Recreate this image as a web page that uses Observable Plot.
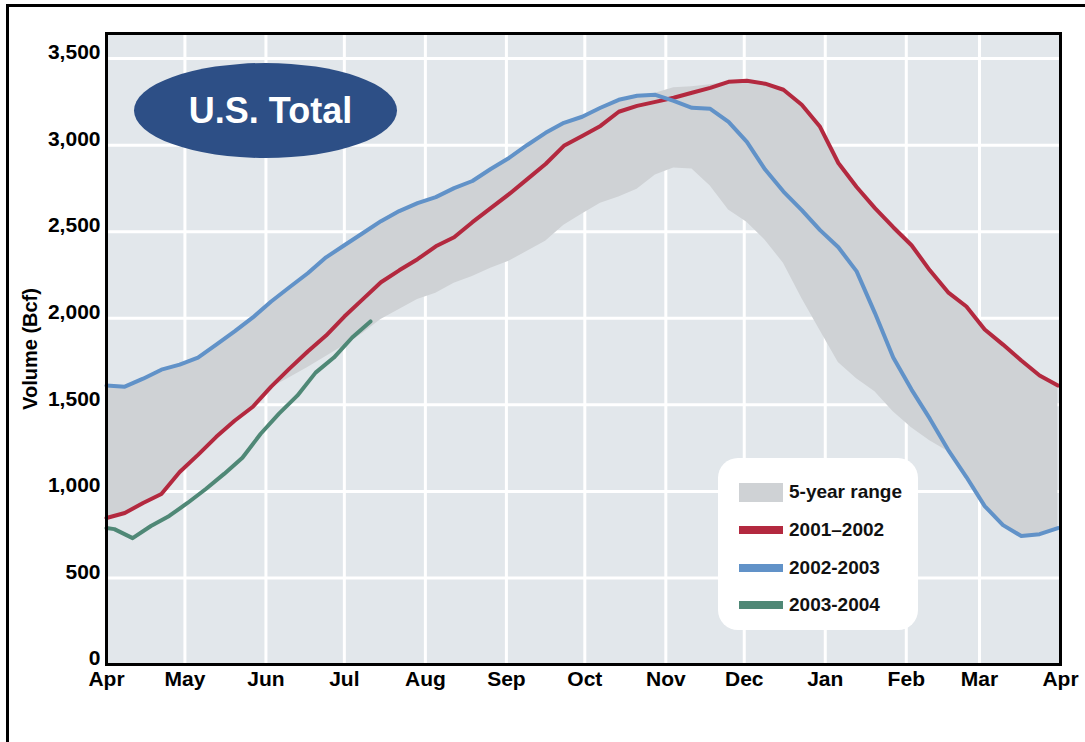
<!DOCTYPE html>
<html><head><meta charset="utf-8">
<script src="https://cdn.jsdelivr.net/npm/d3@7"></script>
<script src="https://cdn.jsdelivr.net/npm/@observablehq/plot@0.6"></script>
<style>
html,body{margin:0;padding:0;background:#fff;overflow:hidden;}
#wrap{position:relative;width:1085px;height:742px;font-family:"Liberation Sans",Arial,sans-serif;overflow:hidden;}
#outer{position:absolute;left:6px;top:4px;width:1200px;height:900px;border:3px solid #000;box-sizing:border-box;}
#chart{position:absolute;left:0;top:0;}
#badge{position:absolute;left:134px;top:63px;width:263px;height:95px;border-radius:50%;background:#2d4f86;color:#fff;font-weight:bold;font-size:36px;display:flex;align-items:center;justify-content:center;padding-left:10px;box-sizing:border-box;}
#legend{position:absolute;left:718px;top:458px;width:200px;height:172px;background:#fff;border-radius:20px;}
.item{position:absolute;left:21px;height:20px;display:flex;align-items:center;font-weight:bold;font-size:19px;color:#111;white-space:nowrap;}
.sw{width:44px;margin-right:6px;}
</style></head>
<body>
<div id="wrap">
  <div id="outer"></div>
  <div id="chart"></div>
  <div id="badge">U.S. Total</div>
  <div id="legend"></div>
</div>
<script>
// ---- data (Bcf), weekly from Apr 1 ----
const monthLabels = ["Apr","May","Jun","Jul","Aug","Sep","Oct","Nov","Dec","Jan","Feb","Mar","Apr"];
const yTickValues = [0, 500, 1000, 1500, 2000, 2500, 3000, 3500];
const seriesNames = ["5-year range", "2001\u20132002", "2002-2003", "2003-2004"];
const seriesColors = ["#cfd2d5", "#b3293f", "#6192c8", "#4f8876"];

const rangeLow = [846, 875, 933, 985, 1112, 1211, 1315, 1408, 1489, 1599,
  1657, 1715, 1779, 1842, 1912, 1993, 2051, 2109, 2144, 2202,
  2242, 2289, 2329, 2387, 2445, 2538, 2602, 2665, 2700, 2746,
  2827, 2868, 2862, 2764, 2625, 2555, 2451, 2318, 2115, 1929,
  1744, 1651, 1576, 1460, 1367, 1292, 1230, 1083, 915, 805,
  742, 753, 788];
const rangeHigh = [1611, 1605, 1651, 1703, 1732, 1773, 1848, 1924, 2005, 2097,
  2179, 2260, 2352, 2422, 2491, 2561, 2619, 2665, 2700, 2752,
  2793, 2862, 2926, 3001, 3071, 3129, 3164, 3216, 3262, 3285,
  3300, 3331, 3337, 3349, 3366, 3372, 3355, 3320, 3233, 3106,
  2897, 2758, 2636, 2526, 2422, 2277, 2150, 2068, 1935, 1848,
  1756, 1669, 1611];
const y2001 = [846, 875, 933, 985, 1112, 1211, 1315, 1408, 1489, 1605,
  1709, 1808, 1900, 2010, 2109, 2208, 2277, 2341, 2416, 2468,
  2555, 2636, 2717, 2804, 2891, 2996, 3053, 3111, 3193, 3227,
  3250, 3274, 3303, 3331, 3366, 3372, 3355, 3320, 3233, 3106,
  2897, 2758, 2636, 2526, 2422, 2277, 2150, 2068, 1935, 1848,
  1756, 1669, 1611];
const y2002 = [1611, 1605, 1651, 1703, 1732, 1773, 1848, 1924, 2005, 2097,
  2179, 2260, 2352, 2422, 2491, 2561, 2619, 2665, 2700, 2752,
  2793, 2862, 2926, 3001, 3071, 3129, 3164, 3216, 3262, 3285,
  3291, 3256, 3216, 3210, 3135, 3019, 2859, 2732, 2625, 2509,
  2410, 2271, 2030, 1773, 1588, 1420, 1240, 1083, 915, 805,
  742, 753, 788];
const y2003Days = [0, 3, 10, 17, 24, 31, 38, 45, 52, 59, 66, 73, 80, 87, 94, 101];
const y2003 = [788, 782, 730, 800, 858, 933, 1014, 1101, 1194, 1333, 1449, 1553, 1686, 1773, 1889, 1982];

// ---- build tables ----
const seasonStart = new Date(Date.UTC(2001, 3, 1));
const dayOf = n => d3.utcDay.offset(seasonStart, n);
const weekDays = d3.range(0, 365, 7);
const band = weekDays.map((d, i) => ({date: dayOf(d), lo: rangeLow[i], hi: rangeHigh[i]}));
const red = weekDays.map((d, i) => ({date: dayOf(d), v: y2001[i]}));
const blue = weekDays.map((d, i) => ({date: dayOf(d), v: y2002[i]}));
const green = y2003Days.map((d, i) => ({date: dayOf(d), v: y2003[i]}));
const monthTicks = d3.utcMonth.range(seasonStart, dayOf(366));

const chart = Plot.plot({
  width: 1085,
  height: 742,
  marginLeft: 106,
  marginRight: 25,
  marginTop: 33,
  marginBottom: 78,
  style: {fontFamily: '"Liberation Sans", Arial, sans-serif', fontWeight: "bold", fontSize: "21px", color: "#000", background: "transparent"},
  x: {type: "utc", domain: [seasonStart, dayOf(365)]},
  y: {domain: [0, 3645]},
  marks: [
    Plot.frame({fill: "#e2e7eb"}),
    Plot.gridX(monthTicks, {stroke: "#fff", strokeOpacity: 1, strokeWidth: 3}),
    Plot.gridY(yTickValues, {stroke: "#fff", strokeOpacity: 1, strokeWidth: 3}),
    Plot.areaY(band, {x: "date", y1: "lo", y2: "hi", fill: seriesColors[0]}),
    Plot.line(red, {x: "date", y: "v", stroke: seriesColors[1], strokeWidth: 4}),
    Plot.line(blue, {x: "date", y: "v", stroke: seriesColors[2], strokeWidth: 4}),
    Plot.line(green, {x: "date", y: "v", stroke: seriesColors[3], strokeWidth: 4}),
    Plot.frame({stroke: "#000", strokeWidth: 3}),
    Plot.axisX(monthTicks, {tickFormat: (d, i) => monthLabels[i], tickSize: 0, tickPadding: 7, label: null, fontSize: 21, fontWeight: "bold", fill: "#000"}),
    Plot.axisY(yTickValues, {tickFormat: d3.format(","), tickSize: 0, tickPadding: 6, dy: -6, label: null, fontSize: 21, fontWeight: "bold", fill: "#000"}),
    Plot.text(["Volume (Bcf)"], {frameAnchor: "left", textAnchor: "middle", rotate: -90, dx: -76, fontSize: 20, fontWeight: "bold", fill: "#000"})
  ]
});
document.getElementById("chart").appendChild(chart);

// ---- legend ----
const legend = document.getElementById("legend");
const rowTops = [24, 62, 100, 137];
seriesNames.forEach((name, i) => {
  const it = document.createElement("div");
  it.className = "item";
  it.style.top = rowTops[i] + "px";
  const sw = document.createElement("div");
  sw.className = "sw";
  sw.style.height = i === 0 ? "19px" : "8px";
  sw.style.background = seriesColors[i];
  const tx = document.createElement("span");
  tx.textContent = name;
  it.appendChild(sw);
  it.appendChild(tx);
  legend.appendChild(it);
});
</script>
</body></html>
